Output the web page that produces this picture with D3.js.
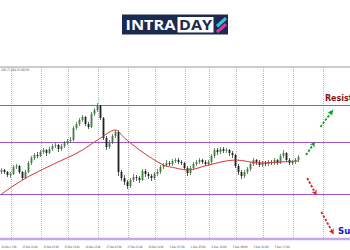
<!DOCTYPE html>
<html lang="en">
<head>
    <meta charset="UTF-8">
    <title>intraday chart</title>
    <script src="https://d3js.org/d3.v7.min.js"></script>
    <style>
        html, body {
            padding: 0;
            margin: 0;
            background-color: white;
            font-family: "Open Sans", sans-serif;
        }
        svg {
            display: block;
        }
    </style>
</head>
<body>
<script>
    // candles: [open, high, low, close]
    const candles = [
        [1828, 1832, 1826, 1830], [1830, 1831, 1826, 1828], [1828, 1829, 1823, 1825], [1825, 1828, 1822, 1826],
        [1826, 1835, 1825, 1833], [1833, 1836, 1831, 1834], [1834, 1835, 1826, 1828], [1828, 1829, 1820, 1822],
        [1822, 1830, 1821, 1828], [1828, 1839, 1827, 1837], [1837, 1844, 1835, 1842], [1842, 1847, 1840, 1845],
        [1845, 1848, 1842, 1844], [1844, 1850, 1843, 1848], [1848, 1852, 1846, 1850], [1850, 1851, 1844, 1847],
        [1847, 1853, 1846, 1851], [1851, 1856, 1849, 1854], [1854, 1857, 1852, 1855], [1855, 1856, 1848, 1851],
        [1851, 1856, 1849, 1854], [1854, 1859, 1852, 1857], [1857, 1861, 1855, 1859], [1859, 1863, 1857, 1860],
        [1860, 1874, 1859, 1872], [1872, 1878, 1870, 1876], [1876, 1882, 1874, 1880], [1880, 1885, 1878, 1883],
        [1883, 1884, 1874, 1876], [1876, 1878, 1871, 1873], [1873, 1888, 1872, 1886], [1886, 1892, 1884, 1890],
        [1890, 1897, 1888, 1894], [1894, 1895, 1880, 1882], [1882, 1883, 1860, 1862], [1862, 1864, 1850, 1853],
        [1853, 1860, 1851, 1858], [1858, 1866, 1856, 1864], [1864, 1870, 1862, 1868], [1868, 1870, 1824, 1828],
        [1828, 1830, 1819, 1822], [1822, 1825, 1815, 1818], [1818, 1820, 1811, 1814], [1814, 1822, 1812, 1820],
        [1820, 1826, 1818, 1823], [1823, 1825, 1819, 1822], [1822, 1824, 1817, 1820], [1820, 1831, 1819, 1829],
        [1829, 1831, 1823, 1826], [1826, 1828, 1821, 1824], [1824, 1826, 1819, 1822], [1822, 1828, 1820, 1826],
        [1826, 1831, 1824, 1828], [1828, 1835, 1826, 1833], [1833, 1837, 1831, 1835], [1835, 1840, 1833, 1837],
        [1837, 1839, 1834, 1836], [1836, 1841, 1834, 1839], [1839, 1842, 1837, 1840], [1840, 1842, 1836, 1838],
        [1838, 1840, 1835, 1837], [1837, 1838, 1830, 1832], [1832, 1834, 1824, 1827], [1827, 1834, 1825, 1832],
        [1832, 1838, 1830, 1836], [1836, 1840, 1834, 1838], [1838, 1842, 1836, 1840], [1840, 1841, 1836, 1838],
        [1838, 1840, 1834, 1836], [1836, 1840, 1834, 1838], [1838, 1846, 1836, 1844], [1844, 1852, 1842, 1850],
        [1850, 1852, 1845, 1848], [1848, 1853, 1846, 1851], [1851, 1853, 1847, 1849], [1849, 1852, 1847, 1850],
        [1850, 1851, 1844, 1847], [1847, 1849, 1842, 1845], [1845, 1846, 1832, 1834], [1834, 1836, 1825, 1828],
        [1828, 1830, 1821, 1824], [1824, 1830, 1822, 1828], [1828, 1833, 1826, 1831], [1831, 1838, 1829, 1836],
        [1836, 1842, 1834, 1840], [1840, 1841, 1835, 1838], [1838, 1840, 1833, 1835], [1835, 1839, 1833, 1837],
        [1837, 1839, 1834, 1836], [1836, 1840, 1834, 1838], [1838, 1840, 1835, 1837], [1837, 1842, 1835, 1840],
        [1840, 1841, 1835, 1837], [1837, 1846, 1836, 1844], [1844, 1850, 1842, 1847], [1847, 1848, 1838, 1840],
        [1840, 1842, 1835, 1837], [1837, 1840, 1835, 1838], [1838, 1842, 1836, 1840], [1840, 1845, 1838, 1843]
    ];

    // moving average: [candle index, value]
    const maPoints = [
        [0, 1806], [7, 1820], [16, 1834], [27, 1850], [33, 1862], [38, 1870], [41, 1862],
        [46, 1850], [51, 1840], [54, 1835], [58, 1832], [62, 1830], [69, 1835], [78, 1840],
        [86, 1837], [93, 1838], [99, 1839]
    ];

    // horizontal levels
    const resistanceLevels = [1895, 1858];
    const supportLevels = [1806];
    const bottomLevel = 1761;

    // vertical grid (candle index)
    const gridIndexes = [3, 13, 22, 32, 42, 51, 61, 69, 78, 87, 97, 107];

    const timeLabels = [
        "24 Nov 17:00", "25 Nov 10:00", "25 Nov 03:00", "25 Nov 19:00", "26 Nov 12:00",
        "27 Nov 05:00", "27 Nov 21:00", "30 Nov 14:00", "1 Dec 07:00", "1 Dec 23:00",
        "2 Dec 16:00", "3 Dec 09:00", "3 Dec 01:00", "3 Dec 17:00"
    ];
    const labelIndexes = [0, 7, 14, 21, 28, 35, 42, 49, 56, 63, 70, 77, 84, 91];

    // forecast arrows: [[from index, from price], [to index, to price]]
    const upArrows = [
        [[101.5, 1845], [104, 1856]],
        [[106.3, 1873], [110, 1888]]
    ];
    const downArrows = [
        [[101.9, 1822], [104.6, 1807]],
        [[106.6, 1788], [110.3, 1768]]
    ];

    const width = 350;
    const height = 250;

    const svg = d3.select("body")
        .append("svg")
        .attr("width", width)
        .attr("height", height);

    const x = d3.scaleLinear().domain([0, 100]).range([1.5, 301.5]);
    const y = d3.scaleLinear().domain([1759, 1933]).range([241, 67]);

    // logo
    const logo = svg.append("g");
    logo.append("rect")
        .attr("x", 122).attr("y", 14.5).attr("width", 106).attr("height", 20)
        .attr("fill", "#1c2a4f");
    logo.append("rect")
        .attr("x", 177.5).attr("y", 17).attr("width", 36).attr("height", 15.5)
        .attr("fill", "white");
    logo.append("text")
        .attr("x", 125.5).attr("y", 30)
        .attr("font-size", 14).attr("font-weight", "bold")
        .attr("textLength", 50).attr("lengthAdjust", "spacingAndGlyphs")
        .attr("fill", "white")
        .text("INTRA");
    logo.append("text")
        .attr("x", 179).attr("y", 30)
        .attr("font-size", 14).attr("font-weight", "bold")
        .attr("textLength", 33).attr("lengthAdjust", "spacingAndGlyphs")
        .attr("fill", "#1c2a4f")
        .text("DAY");
    logo.append("path")
        .attr("d", "M216,25 L225,17 L227,19.5 L218,27.5 Z")
        .attr("fill", "#36c3d8");
    logo.append("path")
        .attr("d", "M216,31 L225,23 L227,25.5 L218,33 Z")
        .attr("fill", "#e2379b");

    // top border
    svg.append("line")
        .attr("x1", 0).attr("x2", width)
        .attr("y1", y(1933)).attr("y2", y(1933))
        .attr("stroke", "#9a9a9a").attr("stroke-width", 1);

    svg.append("text")
        .attr("x", 1).attr("y", 70.5)
        .attr("font-size", 3.5)
        .attr("fill", "#555")
        .attr("font-family", "DejaVu Sans")
        .attr("textLength", 28).attr("lengthAdjust", "spacingAndGlyphs")
        .text("1843.21 1845.16 1840.89");

    // vertical grid
    svg.append("g")
        .selectAll("line")
        .data(gridIndexes)
        .join("line")
        .attr("x1", d => Math.round(x(d)) + 0.5)
        .attr("x2", d => Math.round(x(d)) + 0.5)
        .attr("y1", y(1933))
        .attr("y2", y(1759))
        .attr("stroke", "#b8b8b8")
        .attr("stroke-dasharray", "1,1");

    // level lines
    svg.append("g")
        .selectAll("line")
        .data(resistanceLevels.concat(supportLevels))
        .join("line")
        .attr("x1", 0).attr("x2", width)
        .attr("y1", d => Math.round(y(d)) + 0.5)
        .attr("y2", d => Math.round(y(d)) + 0.5)
        .attr("stroke", "#a052c8").attr("stroke-width", 1.2);

    svg.append("line")
        .attr("x1", 0).attr("x2", width)
        .attr("y1", y(bottomLevel)).attr("y2", y(bottomLevel))
        .attr("stroke", "#c9a4e8").attr("stroke-width", 2.6);

    // axis labels
    svg.append("g")
        .selectAll("text")
        .data(timeLabels)
        .join("text")
        .attr("x", (d, i) => x(labelIndexes[i]))
        .attr("y", 247.5)
        .attr("font-size", 3.2)
        .attr("font-family", "DejaVu Sans")
        .attr("textLength", 15).attr("lengthAdjust", "spacingAndGlyphs")
        .attr("fill", "#444")
        .text(d => d);

    // candles
    const bw = 1.8;
    const candle = svg.append("g")
        .selectAll("g")
        .data(candles)
        .join("g");

    candle.append("line")
        .attr("x1", (d, i) => x(i))
        .attr("x2", (d, i) => x(i))
        .attr("y1", d => y(d[1]))
        .attr("y2", d => y(d[2]))
        .attr("stroke", d => d[3] >= d[0] ? "#2a5e2a" : "#1a1a1a")
        .attr("stroke-width", 0.7);

    candle.append("rect")
        .attr("x", (d, i) => x(i) - bw / 2)
        .attr("width", bw)
        .attr("y", d => y(Math.max(d[0], d[3])))
        .attr("height", d => Math.max(0.7, Math.abs(y(d[0]) - y(d[3]))))
        .attr("fill", d => d[3] >= d[0] ? "#3f7d3f" : "#1c221c");

    // moving average
    svg.append("path")
        .datum(maPoints)
        .attr("fill", "none")
        .attr("stroke", "#d23a3a")
        .attr("stroke-width", 1)
        .attr("d", d3.line().x(d => x(d[0])).y(d => y(d[1])).curve(d3.curveMonotoneX));

    // arrows
    const defs = svg.append("defs");
    [["up", "#1f9a2a"], ["down", "#e0241f"]].forEach(([id, col]) => {
        defs.append("marker")
            .attr("id", "head-" + id)
            .attr("viewBox", "0 0 10 10")
            .attr("refX", 5).attr("refY", 5)
            .attr("markerWidth", 3.2).attr("markerHeight", 3.2)
            .attr("orient", "auto")
            .append("path")
            .attr("d", "M0,0 L10,5 L0,10 L3,5 Z")
            .attr("fill", col);
    });

    const arrowLine = d3.line().x(d => x(d[0])).y(d => y(d[1]));

    svg.append("g")
        .selectAll("path")
        .data(upArrows)
        .join("path")
        .attr("d", arrowLine)
        .attr("stroke", "#1f9a2a").attr("stroke-width", 1.8)
        .attr("stroke-dasharray", "2.5,1.5")
        .attr("marker-end", "url(#head-up)");

    svg.append("g")
        .selectAll("path")
        .data(downArrows)
        .join("path")
        .attr("d", arrowLine)
        .attr("stroke", "#e0241f").attr("stroke-width", 1.8)
        .attr("stroke-dasharray", "2.5,1.5")
        .attr("marker-end", "url(#head-down)");

    // level captions (cut by the right edge, as in the screenshot)
    svg.append("text")
        .attr("x", x(107.8)).attr("y", y(1899))
        .attr("font-size", 8).attr("font-weight", "bold")
        .attr("font-family", "DejaVu Sans")
        .attr("fill", "#8e0f14")
        .text("Resistance");

    svg.append("text")
        .attr("x", x(112.2)).attr("y", y(1766))
        .attr("font-size", 8.5).attr("font-weight", "bold")
        .attr("font-family", "DejaVu Sans")
        .attr("fill", "#1515c8")
        .text("Support");
</script>
</body>
</html>
